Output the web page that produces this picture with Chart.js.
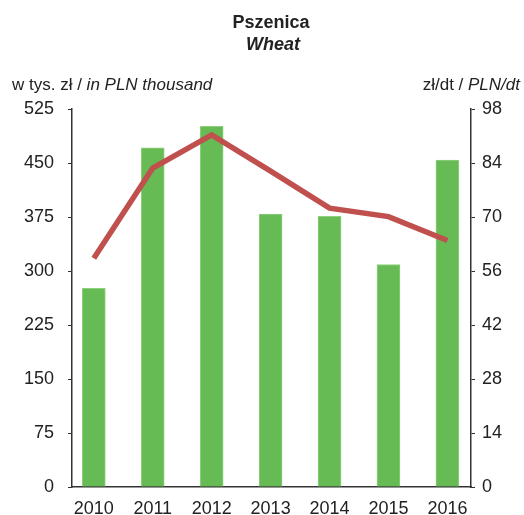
<!DOCTYPE html>
<html>
<head>
<meta charset="utf-8">
<script src="https://cdn.jsdelivr.net/npm/chart.js@4"></script>
<style>
  html, body { margin: 0; padding: 0; background: #fff; }
  #wrap { width: 524px; height: 515px; }
</style>
</head>
<body>
<div id="wrap"><canvas id="myChart" width="524" height="515"></canvas></div>
<script>
var years = ['2010', '2011', '2012', '2013', '2014', '2015', '2016'];
var revenue = [276, 471, 501, 379, 376, 309, 454];      // w tys. zł
var price = [59.3, 82.7, 91.3, 81.9, 72.3, 70.1, 63.9];  // zł/dt
var leftTicks = [0, 75, 150, 225, 300, 375, 450, 525];
var rightTicks = [0, 14, 28, 42, 56, 70, 84, 98];

var font = '"Liberation Sans", Arial, sans-serif';

var textPlugin = {
    id: 'texts',
    afterDraw: function (chart) {
        var c = chart.ctx;
        c.save();
        c.fillStyle = '#222';
        c.textBaseline = 'alphabetic';
        c.textAlign = 'center';
        c.font = 'bold 18px ' + font;
        c.fillText('Pszenica', 271, 28);
        c.font = 'italic bold 18px ' + font;
        c.fillText('Wheat', 273, 50);

        // left axis title
        c.textAlign = 'left';
        c.font = '17px ' + font;
        var a = 'w tys. zł / ';
        c.fillText(a, 12, 90);
        var w = c.measureText(a).width;
        c.font = 'italic 17px ' + font;
        c.fillText('in PLN thousand', 12 + w, 90);

        // right axis title
        c.textAlign = 'right';
        c.font = 'italic 17px ' + font;
        var b = 'PLN/dt';
        c.fillText(b, 520, 90);
        var w2 = c.measureText(b).width;
        c.font = '17px ' + font;
        c.fillText('zł/dt / ', 520 - w2, 90);
        c.restore();
    }
};

var ctx = document.getElementById('myChart').getContext('2d');
var myChart = new Chart(ctx, {
    type: 'bar',
    data: {
        datasets: [{
            type: 'line',
            label: 'zł/dt',
            data: price.map(function (v, i) { return { x: i, y: v }; }),
            yAxisID: 'y1',
            borderColor: '#C0504D',
            backgroundColor: '#C0504D',
            borderWidth: 5.5,
            pointRadius: 0,
            tension: 0,
            order: 0
        }, {
            label: 'w tys. zł',
            data: revenue.map(function (v, i) { return { x: i, y: v }; }),
            yAxisID: 'y',
            backgroundColor: '#66BB55',
            borderColor: '#8FD07E',
            borderWidth: 1,
            barThickness: 23,
            order: 1
        }]
    },
    options: {
        responsive: false,
        animation: false,
        layout: { padding: { top: 109, left: 0, right: 0, bottom: 0 } },
        plugins: {
            legend: { display: false },
            tooltip: { enabled: false }
        },
        scales: {
            x: {
                type: 'linear',
                offset: false,
                min: -0.37,
                max: 6.4,
                afterBuildTicks: function (s) {
                    s.ticks = years.map(function (y, i) { return { value: i }; });
                },
                afterFit: function (s) { s.height = 28; },
                grid: { display: false, drawTicks: false, offset: false },
                border: { display: true, color: '#333', width: 1.5 },
                ticks: {
                    color: '#222',
                    font: { family: font, size: 18 },
                    padding: 11,
                    maxRotation: 0,
                    autoSkip: false,
                    callback: function (v) { return years[v]; }
                }
            },
            y: {
                position: 'left',
                min: 0,
                max: 525,
                afterBuildTicks: function (s) {
                    s.ticks = leftTicks.map(function (v) { return { value: v }; });
                },
                afterFit: function (s) { s.width = 72; },
                grid: { display: true, drawOnChartArea: false, drawTicks: true, tickLength: 4, color: '#333' },
                border: { display: true, color: '#333', width: 1.5 },
                ticks: {
                    color: '#222',
                    font: { family: font, size: 18 },
                    padding: 14
                }
            },
            y1: {
                position: 'right',
                min: 0,
                max: 98,
                afterBuildTicks: function (s) {
                    s.ticks = rightTicks.map(function (v) { return { value: v }; });
                },
                afterFit: function (s) { s.width = 53; },
                grid: { display: true, drawOnChartArea: false, drawTicks: true, tickLength: 4, color: '#333' },
                border: { display: true, color: '#333', width: 1.5 },
                ticks: {
                    color: '#222',
                    font: { family: font, size: 18 },
                    padding: 7
                }
            }
        }
    },
    plugins: [textPlugin]
});
</script>
</body>
</html>
